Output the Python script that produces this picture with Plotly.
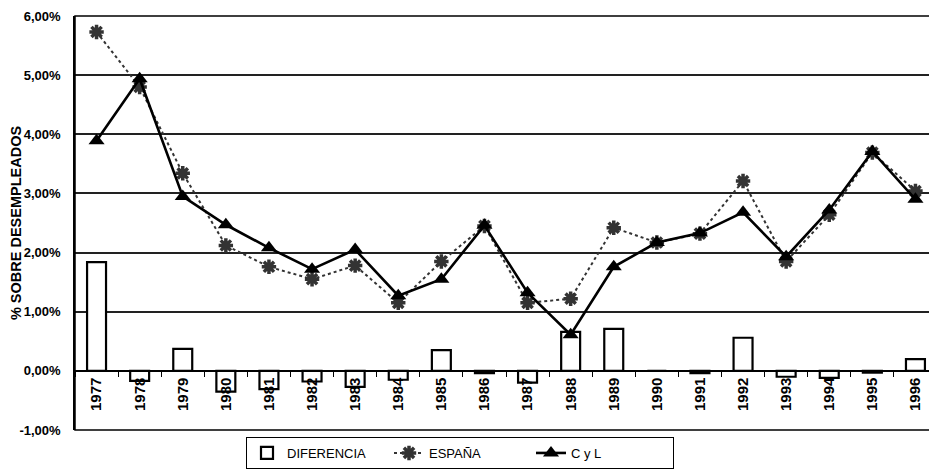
import plotly.graph_objects as go

years = ["1977", "1978", "1979", "1980", "1981", "1982", "1983", "1984", "1985", "1986",
         "1987", "1988", "1989", "1990", "1991", "1992", "1993", "1994", "1995", "1996"]
diferencia = [1.84, -0.17, 0.37, -0.35, -0.31, -0.18, -0.27, -0.15, 0.35, -0.04,
              -0.20, 0.66, 0.71, 0.0, -0.04, 0.56, -0.10, -0.12, -0.03, 0.20]
espana = [5.73, 4.80, 3.34, 2.12, 1.76, 1.55, 1.78, 1.15, 1.85, 2.45,
          1.15, 1.22, 2.42, 2.17, 2.32, 3.21, 1.85, 2.64, 3.69, 3.04]
cyl = [3.89, 4.94, 2.95, 2.47, 2.08, 1.72, 2.05, 1.27, 1.55, 2.46,
       1.32, 0.61, 1.76, 2.17, 2.33, 2.68, 1.93, 2.72, 3.71, 2.90]
y_ticks = [-1, 0, 1, 2, 3, 4, 5, 6]
y_tick_labels = ["-1,00%", "0,00%", "1,00%", "2,00%", "3,00%", "4,00%", "5,00%", "6,00%"]

FONT = "Liberation Sans, Arial, sans-serif"
W, H = 929, 462  # page body has an 8px default margin

fig = go.Figure()
fig.add_trace(go.Bar(
    x=years, y=diferencia, name="DIFERENCIA", width=0.44,
    marker=dict(color="white", line=dict(color="black", width=2.2)),
))
fig.add_trace(go.Scatter(
    x=years, y=espana, name="ESPAÑA", mode="lines+markers",
    line=dict(color="#333333", width=2, dash="dot"),
    marker=dict(symbol="asterisk-open", size=12, color="#333333",
                line=dict(width=3.5, color="#333333")),
))
fig.add_trace(go.Scatter(
    x=years, y=cyl, name="C y L", mode="lines+markers",
    line=dict(color="black", width=2.6),
    marker=dict(symbol="triangle-up", size=14, color="black"),
))

fig.update_layout(
    width=W, height=H,
    margin=dict(l=67, r=0, t=8, b=40),
    paper_bgcolor="white", plot_bgcolor="white",
    font=dict(family=FONT, color="black", size=12),
    showlegend=True,
    legend=dict(orientation="h", xref="container", yref="container",
                x=452 / W, xanchor="center", y=1 - 429 / H, yanchor="top",
                bordercolor="black", borderwidth=1, bgcolor="white",
                font=dict(size=13, family=FONT), entrywidth=97,
                tracegroupgap=0),
    bargap=0.56,
    xaxis=dict(
        type="category", anchor="free", position=1/7, automargin=False,
        showline=True, linecolor="black", linewidth=1.5,
        ticks="outside", tickson="boundaries", ticklen=5, tickcolor="black", tickwidth=1.2,
        tickangle=-90, showgrid=False,
        tickfont=dict(size=15, family=FONT, weight="bold"),
        range=[-0.5, 19.5],
    ),
    yaxis=dict(
        range=[-1, 6], tickvals=y_ticks, ticktext=y_tick_labels, automargin=False,
        showgrid=True, gridcolor="#222222", gridwidth=1.5,
        zeroline=False, showline=True, linecolor="black", linewidth=1.5,
        mirror=True, ticks="", ticklabelstandoff=10,
        tickfont=dict(size=13, family=FONT, weight="bold"),
        title=dict(text="% SOBRE DESEMPLEADOS", standoff=11,
                   font=dict(size=14.5, family=FONT, weight="bold")),
    ),
)

fig.add_shape(type="rect", xref="paper", yref="paper", x0=0, x1=1, y0=0, y1=1,
              line=dict(color="black", width=1.5), layer="above")

fig.write_html("out.html")
